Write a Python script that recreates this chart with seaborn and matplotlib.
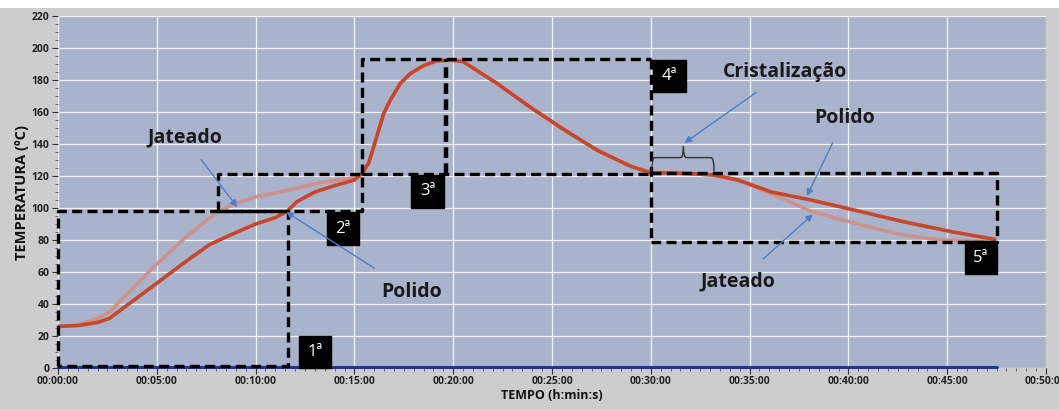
import numpy as np
import pandas as pd
import matplotlib
matplotlib.use("Agg")
import matplotlib.pyplot as plt
import matplotlib.ticker as mticker
from matplotlib.patches import Rectangle, PathPatch
from matplotlib.path import Path
import seaborn as sns

# ---- data (time in minutes, temperature in ºC) ----
polido_t = [0, 1, 2, 2.6, 3.8, 5, 6.3, 7.65, 8.7, 10, 11, 11.6, 12.1, 13, 14, 15, 15.39,
            15.72, 15.97, 16.23, 16.48, 16.82, 17.33, 17.83, 18.5, 19.18, 19.86, 20.5,
            22.2, 23.9, 25.6, 27.3, 29.0, 30.0,
            31, 32, 33.2, 34.4, 36.1, 38.1, 40.3, 42.8, 45.3, 47.4]
polido_v = [26, 26.5, 28.5, 31, 42, 53, 65, 77, 83, 90, 94, 98, 104, 110, 114, 117.5, 121.7,
            128, 138, 148.7, 159, 167.5, 178, 184, 189, 192, 192.5, 191.5,
            178, 163, 149, 136, 126, 122,
            122, 121.5, 120.6, 117.5, 110, 105, 98.7, 91.4, 85, 80.4]

jateado_t = [0, 1, 2, 2.6, 3.8, 5, 6.3, 7, 8, 8.9, 10, 11.6, 13.3, 15, 15.39,
             15.72, 15.97, 16.23, 16.48, 16.82, 17.33, 17.83, 18.5, 19.18, 19.86, 20.5,
             22.2, 23.9, 25.6, 27.3, 29.0, 30.0,
             31, 32, 33.2, 34.4, 36.1, 38.1, 40.3, 42.8, 44.8, 47.0]
jateado_v = [26, 27, 31, 35, 50, 65, 80, 87, 97, 102.5, 107, 111, 116, 119, 121.7,
             128, 138, 148.7, 159, 167.5, 178, 184, 189, 192, 192.5, 191.5,
             178, 163, 149, 136, 126, 122,
             122, 121.5, 120.6, 117.5, 109, 98, 90.6, 83, 80, 79]

x_ticks = [0, 5, 10, 15, 20, 25, 30, 35, 40, 45, 50]
y_ticks = [0, 20, 40, 60, 80, 100, 120, 140, 160, 180, 200, 220]
stage_labels = ["1ª", "2ª", "3ª", "4ª", "5ª"]

df_p = pd.DataFrame({"t": polido_t, "T": polido_v})
df_j = pd.DataFrame({"t": jateado_t, "T": jateado_v})

sns.set_theme(style="white")
plt.rcParams["font.family"] = ["Open Sans", "DejaVu Sans"]

fig = plt.figure(figsize=(10.59, 4.09), dpi=100, facecolor="#cdcdcd")
ax = fig.add_axes([58/1059, 1-368/409, (1046-58)/1059, (368-16)/409])
ax.set_facecolor("#a9b3cb")
fig.patches.append(Rectangle((0, 1-8/409), 1, 8/409, transform=fig.transFigure,
                             facecolor="white", edgecolor="none", zorder=-1))

ax.set_xlim(0, 50)
ax.set_ylim(0, 220)
ax.grid(True, color="white", lw=0.9, alpha=0.85)
ax.set_axisbelow(True)
for s in ax.spines.values():
    s.set_visible(False)

# curves
sns.lineplot(data=df_j, x="t", y="T", ax=ax, color="#cf918b", lw=2.6, sort=False,
             estimator=None, zorder=3)
sns.lineplot(data=df_p, x="t", y="T", ax=ax, color="#c8472a", lw=2.6, sort=False,
             estimator=None, zorder=4)

# blue baseline
ax.plot([0, 47.5], [0.6, 0.6], color="#2233a0", lw=2.2, zorder=2, clip_on=False)

# dashed stage boxes
dk = dict(color="black", lw=2.4, ls=(0, (3, 1.6)), zorder=5, clip_on=False)
ax.plot([0, 0, 11.65, 11.65, 0], [1.5, 98, 98, 1.5, 1.5], **dk)
ax.plot([8.1, 8.1, 15.4, 15.4, 8.1], [98, 121, 121, 98, 98], **dk)
ax.plot([15.4, 15.4, 30.0], [121, 193, 193], **dk)
ax.plot([19.65, 19.65], [121, 193], color="black", lw=3.2, ls=(0, (2.4, 1.2)), zorder=5)
ax.plot([15.4, 30.0], [121, 121], **dk)
ax.plot([30.0, 30.0], [193, 79], **dk)
ax.plot([30.0, 47.5, 47.5, 30.0], [122, 122, 79, 79], **dk)

# stage labels
stage_pos = [(13.0, 10), (14.4, 87), (18.7, 110.5), (30.95, 182.5), (46.7, 69)]
for lab, (xx, yy) in zip(stage_labels, stage_pos):
    ax.text(xx, yy, lab, color="white", fontsize=12, ha="center", va="center",
            family=["Open Sans", "DejaVu Sans"], zorder=7,
            bbox=dict(boxstyle="square,pad=0.5", fc="black", ec="black"))

# annotations
afont = dict(fontsize=14, fontweight="bold", family=["Open Sans", "DejaVu Sans"],
             color="#1a1a1a", zorder=8)
arr = dict(arrowstyle="-|>", color="#4a7fd0", lw=1.0, mutation_scale=10)
ax.annotate("Jateado", xy=(9.07, 100.6), xytext=(6.4, 144), ha="center", va="center",
            arrowprops=dict(**arr, shrinkA=8, shrinkB=0), **afont)
ax.annotate("Polido", xy=(11.55, 97.5), xytext=(17.9, 47.5), ha="center", va="center",
            arrowprops=dict(**arr, shrinkA=14, shrinkB=0), **afont)
ax.annotate("Cristalização", xy=(31.7, 140.6), xytext=(36.8, 185), ha="center", va="center",
            arrowprops=dict(**arr, shrinkA=9, shrinkB=0), **afont)
ax.annotate("Polido", xy=(37.9, 107.5), xytext=(39.8, 156), ha="center", va="center",
            arrowprops=dict(**arr, shrinkA=9, shrinkB=0), **afont)
ax.annotate("Jateado", xy=(38.2, 96), xytext=(34.4, 54), ha="center", va="center",
            arrowprops=dict(**arr, shrinkA=10, shrinkB=0), **afont)

# curly brace for crystallization
bx0, bx1, bm, yb, yt, yh = 30.05, 33.2, 31.65, 123, 131.5, 138.5
verts = [(bx0, yb), (bx0, yt), (bx0 + 0.15, yt),
         (bm - 0.15, yt), (bm, yt), (bm, yh),
         (bm, yt), (bm + 0.15, yt),
         (bx1 - 0.15, yt), (bx1, yt), (bx1, yb)]
codes = [Path.MOVETO, Path.CURVE3, Path.CURVE3,
         Path.LINETO, Path.CURVE3, Path.CURVE3,
         Path.CURVE3, Path.CURVE3,
         Path.LINETO, Path.CURVE3, Path.CURVE3]
ax.add_patch(PathPatch(Path(verts, codes), fc="none", ec="#333333", lw=1.0, zorder=6))

# ticks
def fmt(v, pos):
    m = int(round(v))
    return f"00:{m:02d}:00"

ax.set_xticks(x_ticks)
ax.xaxis.set_major_formatter(mticker.FuncFormatter(fmt))
ax.xaxis.set_minor_locator(mticker.MultipleLocator(0.5))
ax.set_yticks(y_ticks)
ax.yaxis.set_minor_locator(mticker.MultipleLocator(5))
ax.tick_params(axis="both", which="major", length=4, width=0.8, color="#333333",
               labelsize=7.5, pad=2, direction="out")
ax.tick_params(axis="both", which="minor", length=2, width=0.6, color="#555555",
               direction="out")
ax.tick_params(left=True, bottom=True, which="both")
for lab in ax.get_xticklabels() + ax.get_yticklabels():
    lab.set_fontweight("bold")
    lab.set_color("#222222")

ax.set_xlabel("TEMPO (h:min:s)", fontsize=9, fontweight="bold", color="#111111", labelpad=1)
ax.set_ylabel("TEMPERATURA (ºC)", fontsize=10.5, fontweight="bold", color="#111111", labelpad=2)

fig.savefig("out.png", dpi=100, facecolor=fig.get_facecolor())
